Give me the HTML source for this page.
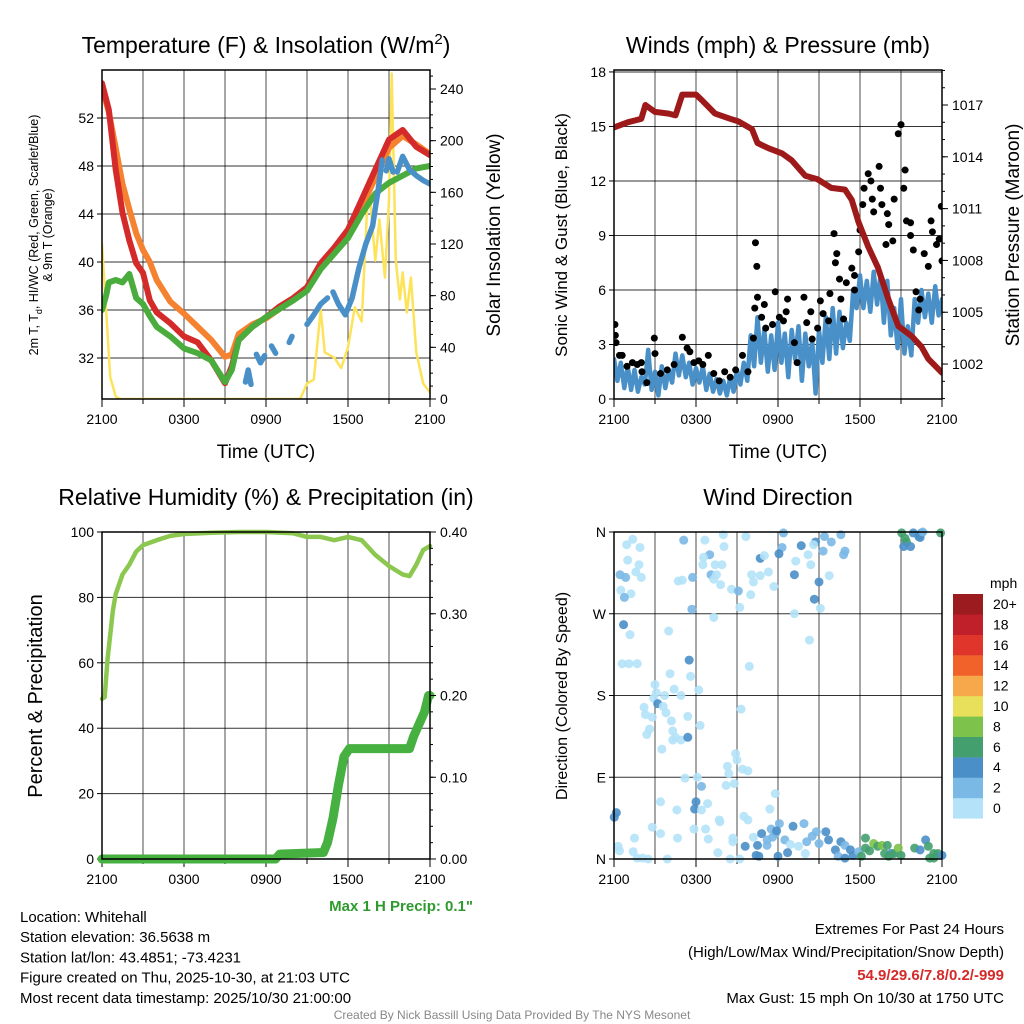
<!DOCTYPE html>
<html><head><meta charset="utf-8"><style>
html,body{margin:0;padding:0;background:#fff;width:1024px;height:1024px;overflow:hidden}
svg{display:block;font-family:"Liberation Sans",sans-serif}
</style></head><body>
<svg id="c" width="1024" height="1024" viewBox="0 0 1024 1024"></svg>
<script>
// ---------- DATA ----------
const tempHours=[0,0.5,1,1.5,2,2.5,3,3.5,4,5,6,7,8,9,9.5,10,11,12,13,14,15,16,17,18,19,20,21,22,23,24];
const tempRed=[54.9,52.7,47.7,44.1,41.8,39.9,39.1,36.8,35.8,34.9,33.8,33.3,31.8,29.9,31.3,33.5,34.6,35.4,36.3,37,37.9,39.9,41.2,42.7,45.2,47.7,50.2,51,49.6,48.9];
const tempOrange=[54.5,52.5,49.5,46.5,44.4,42.4,41,40,38.5,36.7,35.7,34.6,33.5,32.1,32.3,34,34.8,35.3,36.1,36.9,37.8,39.6,41,42.4,44.6,47,49.5,50.5,49.8,49];
const dewHours=[0,0.3,0.5,1,1.5,2,2.5,3,3.5,4,5,6,7,8,9,9.5,10,11,12,13,14,15,16,17,18,19,20,21,22,23,24];
const dewGreen=[36,37.2,38.3,38.5,38.3,39,37,36.5,35.5,34.6,33.8,32.8,32.4,31.8,30,31,33.5,34.6,35.4,36.1,36.8,37.6,39.4,40.7,42,44,45.7,46.6,47.2,47.8,48];
const chillHours=[10.5,10.7,10.9,null,11.3,11.6,11.9,null,12.4,12.7,null,13.7,13.9,null,15,15.5,16,16.5,null,16.9,17.3,17.8,18.3,18.8,19.3,19.8,20.2,20.5,null,20.8,21,21.3,null,21.6,22,22.5,23,23.5,24];
const chillBlue=[30,31,29.8,null,32.3,31.6,32.2,null,33,32.4,null,33.3,33.8,null,34.8,35.6,36.5,37,null,37.5,36.5,35.6,37,39.5,41.5,43,46,48.5,null,47.6,48.6,47.5,null,47.5,48.8,47.7,47.2,46.8,46.5];
const solHours=[0,0.3,0.6,1,1.3,14.5,15,15.5,16,16.3,17,17.5,18,18.5,19,19.5,20,20.3,20.7,21,21.2,21.5,21.8,22,22.3,22.6,23,23.5,24];
const solYellow=[120,69,17,2,0,0,12,15,69,36,32,24,40,71,60,170,107,139,94,154,252,107,77,98,67,94,36,12,5];
const presHours=[0,1,2,2.3,3,4,4.5,5,6,6.4,7.4,8.5,9.1,10.1,10.5,11.3,12.3,13,14,14.9,15.9,16.9,17.4,17.9,18.6,19.3,20.1,20.8,21.8,22.5,23,24];
const presMaroon=[1015.7,1016,1016.2,1017,1016.6,1016.5,1016.4,1017.6,1017.6,1017.3,1016.5,1016.2,1016.05,1015.6,1014.8,1014.5,1014.2,1013.8,1012.9,1012.7,1012.2,1012.1,1011.5,1010.2,1008.8,1007.6,1005.7,1004.2,1003.6,1003,1002.3,1001.5];
const windBlue=[2.2,1.0,2.0,0.6,1.8,0.5,1.6,0.4,1.2,
 0.8,2.7,0.5,1.5,0.2,1.8,0.6,1.6,
 0.9,2.5,1.3,2.4,1.2,2.0,0.8,1.7,
 0.9,1.8,0.5,1.4,0.4,1.1,0.3,1.0,
 0.2,1.2,0.4,1.6,0.8,2.0,1.0,3.5,
 1.8,4.5,2.0,3.8,1.5,3.5,1.6,4.2,
 2.0,3.6,1.2,3.8,2.2,4.0,1.0,3.6,
 1.8,3.2,0.3,3.8,2.0,4.5,2.2,5.0,
 2.5,4.8,2.8,4.2,3.2,6.0,5.0,6.8,
 5.0,6.5,4.8,7.0,5.2,6.8,4.2,6.5,
 3.5,5.0,2.8,5.5,2.5,4.0,2.4,5.5,
 4.2,6.0,4.5,5.8,4.2,6.2,4.6,5.5];
const windHours=windBlue.map((_,i)=>i*0.25);
const gustHours=[0.07,0.1,0.15,0.4,0.6,0.95,1.35,1.7,2.0,2.05,2.4,2.95,3.0,3.4,3.9,4.4,5.0,5.35,5.55,5.85,6.2,6.5,6.9,7.3,7.7,8.1,8.5,8.9,9.4,9.8,10.2,10.3,10.35,10.45,10.5,10.8,11.0,11.1,11.6,11.8,12.1,12.4,12.7,12.6,13.2,13.4,13.9,14.1,14.4,14.5,14.9,15.1,15.3,15.7,15.8,16.1,16.2,16.3,16.5,16.6,16.8,17.0,17.4,17.6,17.6,17.9,18.0,18.2,18.3,18.6,18.8,18.9,19.0,19.4,19.5,19.6,19.9,20.0,20.1,20.4,20.5,20.8,21.0,21.2,21.3,21.4,21.7,21.7,21.9,22.1,22.3,22.4,22.7,23.0,23.2,23.3,23.6,23.8,24.0,23.95];
const gustBlack=[4.1,3.5,3.1,2.4,2.4,1.8,2.0,1.9,2.0,1.5,0.9,3.35,2.5,1.4,1.6,1.9,3.4,2.8,2.6,2.0,2.1,1.9,2.4,1.4,1.0,1.5,1.2,1.6,2.4,1.5,3.35,5.0,8.6,7.3,5.6,4.5,5.2,3.9,4.1,5.9,4.5,4.3,5.5,4.8,3.1,2.0,5.6,4.2,4.8,3.3,3.9,5.4,4.7,4.3,5.8,9.1,7.5,8.0,6.6,5.5,4.4,6.4,7.2,6.0,6.8,8.1,9.3,10.7,11.6,12.4,12.0,11.0,10.3,12.8,11.6,10.7,8.5,10.2,9.6,8.7,11.0,14.6,15.1,11.6,12.6,9.8,9.7,9.0,8.2,5.9,4.9,5.5,8.0,7.3,9.8,9.2,8.5,8.8,7.6,10.6];
const rhHours=[0,0.2,0.4,0.8,1,1.5,2,2.5,3,4,5,6,8,10,12,14,15,16,17,18,19,20,21,22,22.5,23,23.5,24];
const rhValues=[49,49.5,61,76,81,87,90,94,96,97.5,98.8,99.4,99.8,100,100,99.6,98.5,98.5,97.5,98.5,97.5,93,89.6,87,86.5,90,94.5,95.7];
const precipHours=[0,12.7,13,16.2,16.5,16.9,17.3,17.7,18.1,22.5,22.8,23.2,23.6,23.9,24];
const precipValues=[0,0,0.006,0.008,0.02,0.05,0.09,0.125,0.135,0.135,0.15,0.165,0.18,0.2,0.2];
const dirHours=[0.93,1.37,1.9,1.0,1.83,1.6,2.0,0.44,0.85,0.5,1.24,0.76,5.1,6.65,8.0,8.05,9.65,7.0,6.55,6.5,7.4,7.9,7.1,7.5,7.3,4.7,5.0,5.75,7.8,8.6,9.1,5.7,7.3,9.2,12.4,12.3,12.07,10.7,11.0,11.3,10.7,10.07,10.2,10.0,11.7,13.3,13.7,14.4,14.2,14.75,14.6,15.4,15.9,15.3,16.6,16.9,16.8,15.75,13.2,15.0,14.66,15.1,13.2,14.3,0.7,1.17,4.0,0.6,1.1,1.7,5.5,4.1,5.6,9.9,3.0,3.1,4.4,3.7,4.9,6.2,2.9,3.2,2.2,2.3,3.6,3.8,2.8,4.2,5.4,6.3,9.3,2.6,2.4,4.3,4.5,4.3,4.9,5.4,3.5,8.9,9.0,8.3,8.4,9.4,9.8,5.2,6.1,6.4,8.2,8.8,11.8,3.4,6.0,5.9,6.4,6.85,4.6,11.4,0.17,0.02,7.7,7.75,9.5,9.8,2.8,3.4,1.5,4.65,5.85,6.7,6.9,8.7,8.7,0.3,0.4,1.4,1.7,2.1,2.5,3.9,7.6,8.5,9.2,10.2,10.5,9.6,10.8,11.2,11.2,11.5,11.8,11.6,12.1,11.9,10.6,10.4,12.0,12.5,12.9,12.7,13.1,13.5,13.9,14.1,14.0,14.5,14.8,15.0,15.5,15.7,16.2,16.6,16.9,16.4,16.9,17.3,17.5,17.9,18.4,18.4,18.7,19.0,19.3,19.6,20.0,19.8,20.3,20.5,20.8,21.0,20.1,18.1,22.0,22.4,22.8,23.0,23.4,23.7,23.4,24.0,23.1,21.05,21.4,21.3,21.2,21.7,21.9,22.3,22.5,22.4,22.6,23.9];
const dirDegrees=[346,352,343,329,324,316,310,313,310,296,292,288,351,351,357,344,355,335,332,324,324,324,313,313,308,306,307,310,302,297,295,275,266,277,359,343,336,331,334,316,312,313,305,291,300,328,345,324,335,349,346,355,349,339,357,339,335,312,313,305,286,276,270,241,258,247,251,215,215,215,219,204,201,212,192,183,187,180,180,186,177,171,167,159,168,161,156,152,157,147,165,143,137,141,134,131,131,134,121,116,109,102,94,99,97,89,90,80,81,83,72,63,63,55,54,61,54,55,51,46,43,41,47,43,35,28,23,23,33,33,22,23,19,14,9,8,1,1,0,0,7,0,0,24,15,14,28,21,15,33,28,24,39,31,3,4,3,21,16,7,36,14,39,19,6,25,30,17,30,21,10,19,15,3,1,10,4,8,23,12,9,17,14,15,15,6,6,6,12,4,3,3,12,10,21,14,6,6,1,4,1,359,349,353,344,344,359,355,359,354,360,359];
const dirSpeeds=[1,1,1,1,1,1,1,3,3,1,1,3,3,1,1,1,1,3,1,1,1,1,3,1,1,1,1,3,1,1,3,3,1,1,3,3,4,4,1,1,1,1,1,1,1,1,4,1,1,4,1,3,3,3,3,3,3,1,4,4,4,1,1,1,4,1,1,1,1,1,4,1,1,1,1,1,1,1,1,1,1,4,1,1,1,1,1,1,1,1,1,1,1,1,1,1,1,4,1,1,1,1,1,1,1,1,1,3,1,1,1,1,4,4,1,1,1,1,4,4,1,1,1,1,1,1,1,1,1,1,1,1,1,1,1,1,1,1,1,1,1,1,1,1,4,4,4,3,3,3,3,3,3,4,4,4,4,3,1,4,4,1,3,3,1,3,3,3,4,4,4,4,3,3,4,4,4,3,6,6,6,8,6,8,6,6,4,6,8,6,6,6,6,4,4,6,6,6,6,4,6,6,6,6,4,4,4,4,4,4,3,6];
const speedLabels=["0","2","4","6","8","10","12","14","16","18","20+"];
const speedColors=["#b4e2f8","#7ab8e6","#4a8fc8","#43a06e","#7dc24a","#e8e05a","#f7a84a","#f0622a","#e0352b","#c0202a","#9b1b1e"];
const timeTickLabels=["2100","0300","0900","1500","2100"];

// ---------- HELPERS ----------
const NS="http://www.w3.org/2000/svg";
const svg=document.getElementById('c');
function mk(tag,attrs,parent,text){const e=document.createElementNS(NS,tag);for(const k in attrs)e.setAttribute(k,attrs[k]);if(text!==undefined)e.textContent=text;(parent||svg).appendChild(e);return e;}
function xs(p){return h=>p.x0+h/24*(p.x1-p.x0);}
function pathFrom(hours,vals,fx,fy){let d="",pen=false;for(let i=0;i<hours.length;i++){if(hours[i]===null||vals[i]===null){pen=false;continue;}d+=(pen?"L":"M")+fx(hours[i]).toFixed(1)+","+fy(vals[i]).toFixed(1);pen=true;}return d;}
function clip(id,p){const cp=mk('clipPath',{id:id});mk('rect',{x:p.x0,y:p.y0,width:p.x1-p.x0,height:p.y1-p.y0},cp);}

function frame(p,name,yl){
  const g=mk('g',{});
  
  const fx=xs(p);
  for(let h=3;h<24;h+=3){const l=mk('line',{x1:fx(h),x2:fx(h),y1:p.y0,y2:p.y1,stroke:'#000','stroke-width':1,'stroke-opacity':0.7},g);}
  yl.forEach(t=>{const y=p.fy(t.v);if(y>p.y0+1&&y<p.y1-1){const l=mk('line',{x1:p.x0,x2:p.x1,y1:y,y2:y,stroke:'#000','stroke-width':1,'stroke-opacity':0.8},g);}
    mk('line',{x1:p.x0-5,x2:p.x0,y1:y,y2:y,stroke:'#000','stroke-width':1},g);
    const tx=mk('text',{x:p.x0-8,y:y+5,'text-anchor':'end','font-size':14},g,t.l);});
  for(let h=0;h<=24;h+=3){mk('line',{x1:fx(h),x2:fx(h),y1:p.y1,y2:p.y1+(h%6===0?8:5),stroke:'#000','stroke-width':1},g);}
  timeTickLabels.forEach((s,i)=>{const t=mk('text',{x:fx(i*6),y:p.y1+25,'text-anchor':'middle','font-size':14},g,s);});
  return g;
}
function border(p){const r=mk('rect',{x:p.x0,y:p.y0,width:p.x1-p.x0,height:p.y1-p.y0,fill:'none',stroke:'#000','stroke-width':1.5});}
function rightAxis(p,fy,major,minor,fmt){const g=mk('g',{});
  minor.forEach(v=>{const y=fy(v);if(y>=p.y0-0.5&&y<=p.y1+0.5)mk('line',{x1:p.x1,x2:p.x1+3,y1:y,y2:y,stroke:'#000','stroke-width':1},g);});
  major.forEach(v=>{const y=fy(v);mk('line',{x1:p.x1,x2:p.x1+6,y1:y,y2:y,stroke:'#000','stroke-width':1},g);const t=mk('text',{x:p.x1+10,y:y+5,'font-size':14},g,fmt(v));});}
function title(x,y,txt,name){const t=mk('text',{x:x,y:y,'text-anchor':'middle','font-size':23});t.innerHTML=txt;return t;}
function vlabel(x,y,txt,size,name){const t=mk('text',{x:0,y:0,'text-anchor':'middle','font-size':size,transform:`translate(${x},${y}) rotate(-90)`});t.innerHTML=txt;}
function line(p,hours,vals,fy,color,w,name,cid){const e=mk('path',{d:pathFrom(hours,vals,xs(p),fy),fill:'none',stroke:color,'stroke-width':w,'stroke-linejoin':'round','stroke-linecap':'round','clip-path':`url(#${cid})`});}

// ---------- PANEL 1 ----------
const p1={x0:102,x1:430,y0:70,y1:399};p1.fy=t=>118+(52-t)*12;
const ySol=s=>399-s*310/240;
clip('c1',p1);
frame(p1,'temperature',[32,36,40,44,48,52].map(v=>({v:v,l:String(v)})));
line(p1,solHours,solYellow,ySol,'#fde35a',2.5,'insolation-line','c1');
line(p1,tempHours,tempOrange,p1.fy,'#f58230',6,'temp-9m-line','c1');
line(p1,tempHours,tempRed,p1.fy,'#d42a2a',6,'temp-2m-line','c1');
line(p1,dewHours,dewGreen,p1.fy,'#4aac3c',6,'dewpoint-line','c1');
line(p1,chillHours,chillBlue,p1.fy,'#4a90c8',5.5,'windchill-line','c1');
border(p1);
rightAxis(p1,ySol,[0,40,80,120,160,200,240],Array.from({length:26},(_,i)=>i*10),v=>String(v));
title(266,53,'Temperature (F) &amp; Insolation (W/m<tspan dy="-9" font-size="15">2</tspan><tspan dy="9">)</tspan>','temperature-title');
vlabel(38,235,'2m T, T<tspan dy="4" font-size="9">d</tspan><tspan dy="-4">, HI/WC (Red, Green, Scarlet/Blue)</tspan>',12.5,'temperature-y-title');
vlabel(52,235,'&amp; 9m T (Orange)',12.5,'temperature-y-title-2');
vlabel(500,235,'Solar Insolation (Yellow)',19,'insolation-y-title');
{const t=mk('text',{x:266,y:458,'text-anchor':'middle','font-size':19},svg,'Time (UTC)');}

// ---------- PANEL 2 ----------
const p2={x0:614,x1:942,y0:70,y1:399};p2.fy=w=>399-w*18.17;
const yP=v=>105+(1017-v)*17.27;
clip('c2',p2);
frame(p2,'winds',[0,3,6,9,12,15,18].map(v=>({v:v,l:String(v)})));
line(p2,windHours,windBlue,p2.fy,'#4a90c8',4.5,'sonic-wind-line','c2');
{const fx=xs(p2);const g=mk('g',{'clip-path':'url(#c2)'});
 gustHours.forEach((h,i)=>{const c=mk('circle',{cx:fx(h),cy:p2.fy(gustBlack[i]),r:3.5,fill:'#000'},g);});}
line(p2,presHours,presMaroon,yP,'#9e1a1a',6,'pressure-line','c2');
border(p2);
rightAxis(p2,yP,[1002,1005,1008,1011,1014,1017],Array.from({length:20},(_,i)=>1000+i),v=>String(v));
title(778,53,'Winds (mph) &amp; Pressure (mb)','winds-title');
vlabel(567,235,'Sonic Wind &amp; Gust (Blue, Black)',17,'wind-y-title');
vlabel(1019,235,'Station Pressure (Maroon)',19,'pressure-y-title');
{const t=mk('text',{x:778,y:458,'text-anchor':'middle','font-size':19},svg,'Time (UTC)');}

// ---------- PANEL 3 ----------
const p3={x0:102,x1:430,y0:532,y1:859};p3.fy=r=>859-r*3.27;
const yPr=v=>859-v/0.4*327;
clip('c3',{x0:96,x1:436,y0:526,y1:865});
frame(p3,'humidity',[0,20,40,60,80,100].map(v=>({v:v,l:String(v)})));
line(p3,rhHours,rhValues,p3.fy,'#8cc850',4.5,'rh-line','c3');
line(p3,precipHours,precipValues,yPr,'#46b040',9,'precip-line','c3');
border(p3);
rightAxis(p3,yPr,[0,0.1,0.2,0.3,0.4],Array.from({length:21},(_,i)=>i*0.02),v=>v.toFixed(2));
title(266,505,'Relative Humidity (%) &amp; Precipitation (in)','humidity-title');
vlabel(42,696,'Percent &amp; Precipitation',20,'humidity-y-title');
{const t=mk('text',{x:473,y:911,'text-anchor':'end','font-size':15,'font-weight':'bold',fill:'#2e9a2e'},svg,'Max 1 H Precip: 0.1"');}

// ---------- PANEL 4 ----------
const p4={x0:614,x1:942,y0:532,y1:859};p4.fy=d=>859-d*327/360;
clip('c4',{x0:608,x1:948,y0:526,y1:865});
frame(p4,'wind-direction',[{v:0,l:'N'},{v:90,l:'E'},{v:180,l:'S'},{v:270,l:'W'},{v:360,l:'N'}]);
{const fx=xs(p4);const g=mk('g',{'clip-path':'url(#c4)'});
 dirHours.forEach((h,i)=>{const k=Math.min(10,Math.floor(dirSpeeds[i]/2));const c=mk('circle',{cx:fx(h),cy:p4.fy(dirDegrees[i]),r:4.5,fill:speedColors[k],'fill-opacity':0.9},g);});}
border(p4);
title(778,505,'Wind Direction','direction-title');
vlabel(567,696,'Direction (Colored By Speed)',16,'direction-y-title');
{const g=mk('g',{});
 mk('text',{x:990,y:588,'font-size':14},g,'mph');
 speedLabels.forEach((s,i)=>{const top=594+(10-i)*20.4;const r=mk('rect',{x:953,y:top,width:30,height:20.6,fill:speedColors[i]},g);
  const tx=mk('text',{x:993,y:top+15,'font-size':14},g,s);});}

// ---------- FOOTER ----------
{const lines=['Location: Whitehall','Station elevation: 36.5638 m','Station lat/lon: 43.4851; -73.4231','Figure created on Thu, 2025-10-30, at 21:03 UTC','Most recent data timestamp: 2025/10/30 21:00:00'];
 const g=mk('g',{});
 lines.forEach((s,i)=>mk('text',{x:20,y:922+i*20.2,'font-size':15},g,s));
 const g2=mk('g',{});
 mk('text',{x:1004,y:934,'text-anchor':'end','font-size':15},g2,'Extremes For Past 24 Hours');
 mk('text',{x:1004,y:957,'text-anchor':'end','font-size':15},g2,'(High/Low/Max Wind/Precipitation/Snow Depth)');
 mk('text',{x:1004,y:980,'text-anchor':'end','font-size':15,'font-weight':'bold',fill:'#d42a2a'},g2,'54.9/29.6/7.8/0.2/-999');
 mk('text',{x:1004,y:1003,'text-anchor':'end','font-size':15},g2,'Max Gust: 15 mph On 10/30 at 1750 UTC');
 const c=mk('text',{x:512,y:1019,'text-anchor':'middle','font-size':12,fill:'#888'},svg,'Created By Nick Bassill Using Data Provided By The NYS Mesonet');}
</script>
</body></html>
